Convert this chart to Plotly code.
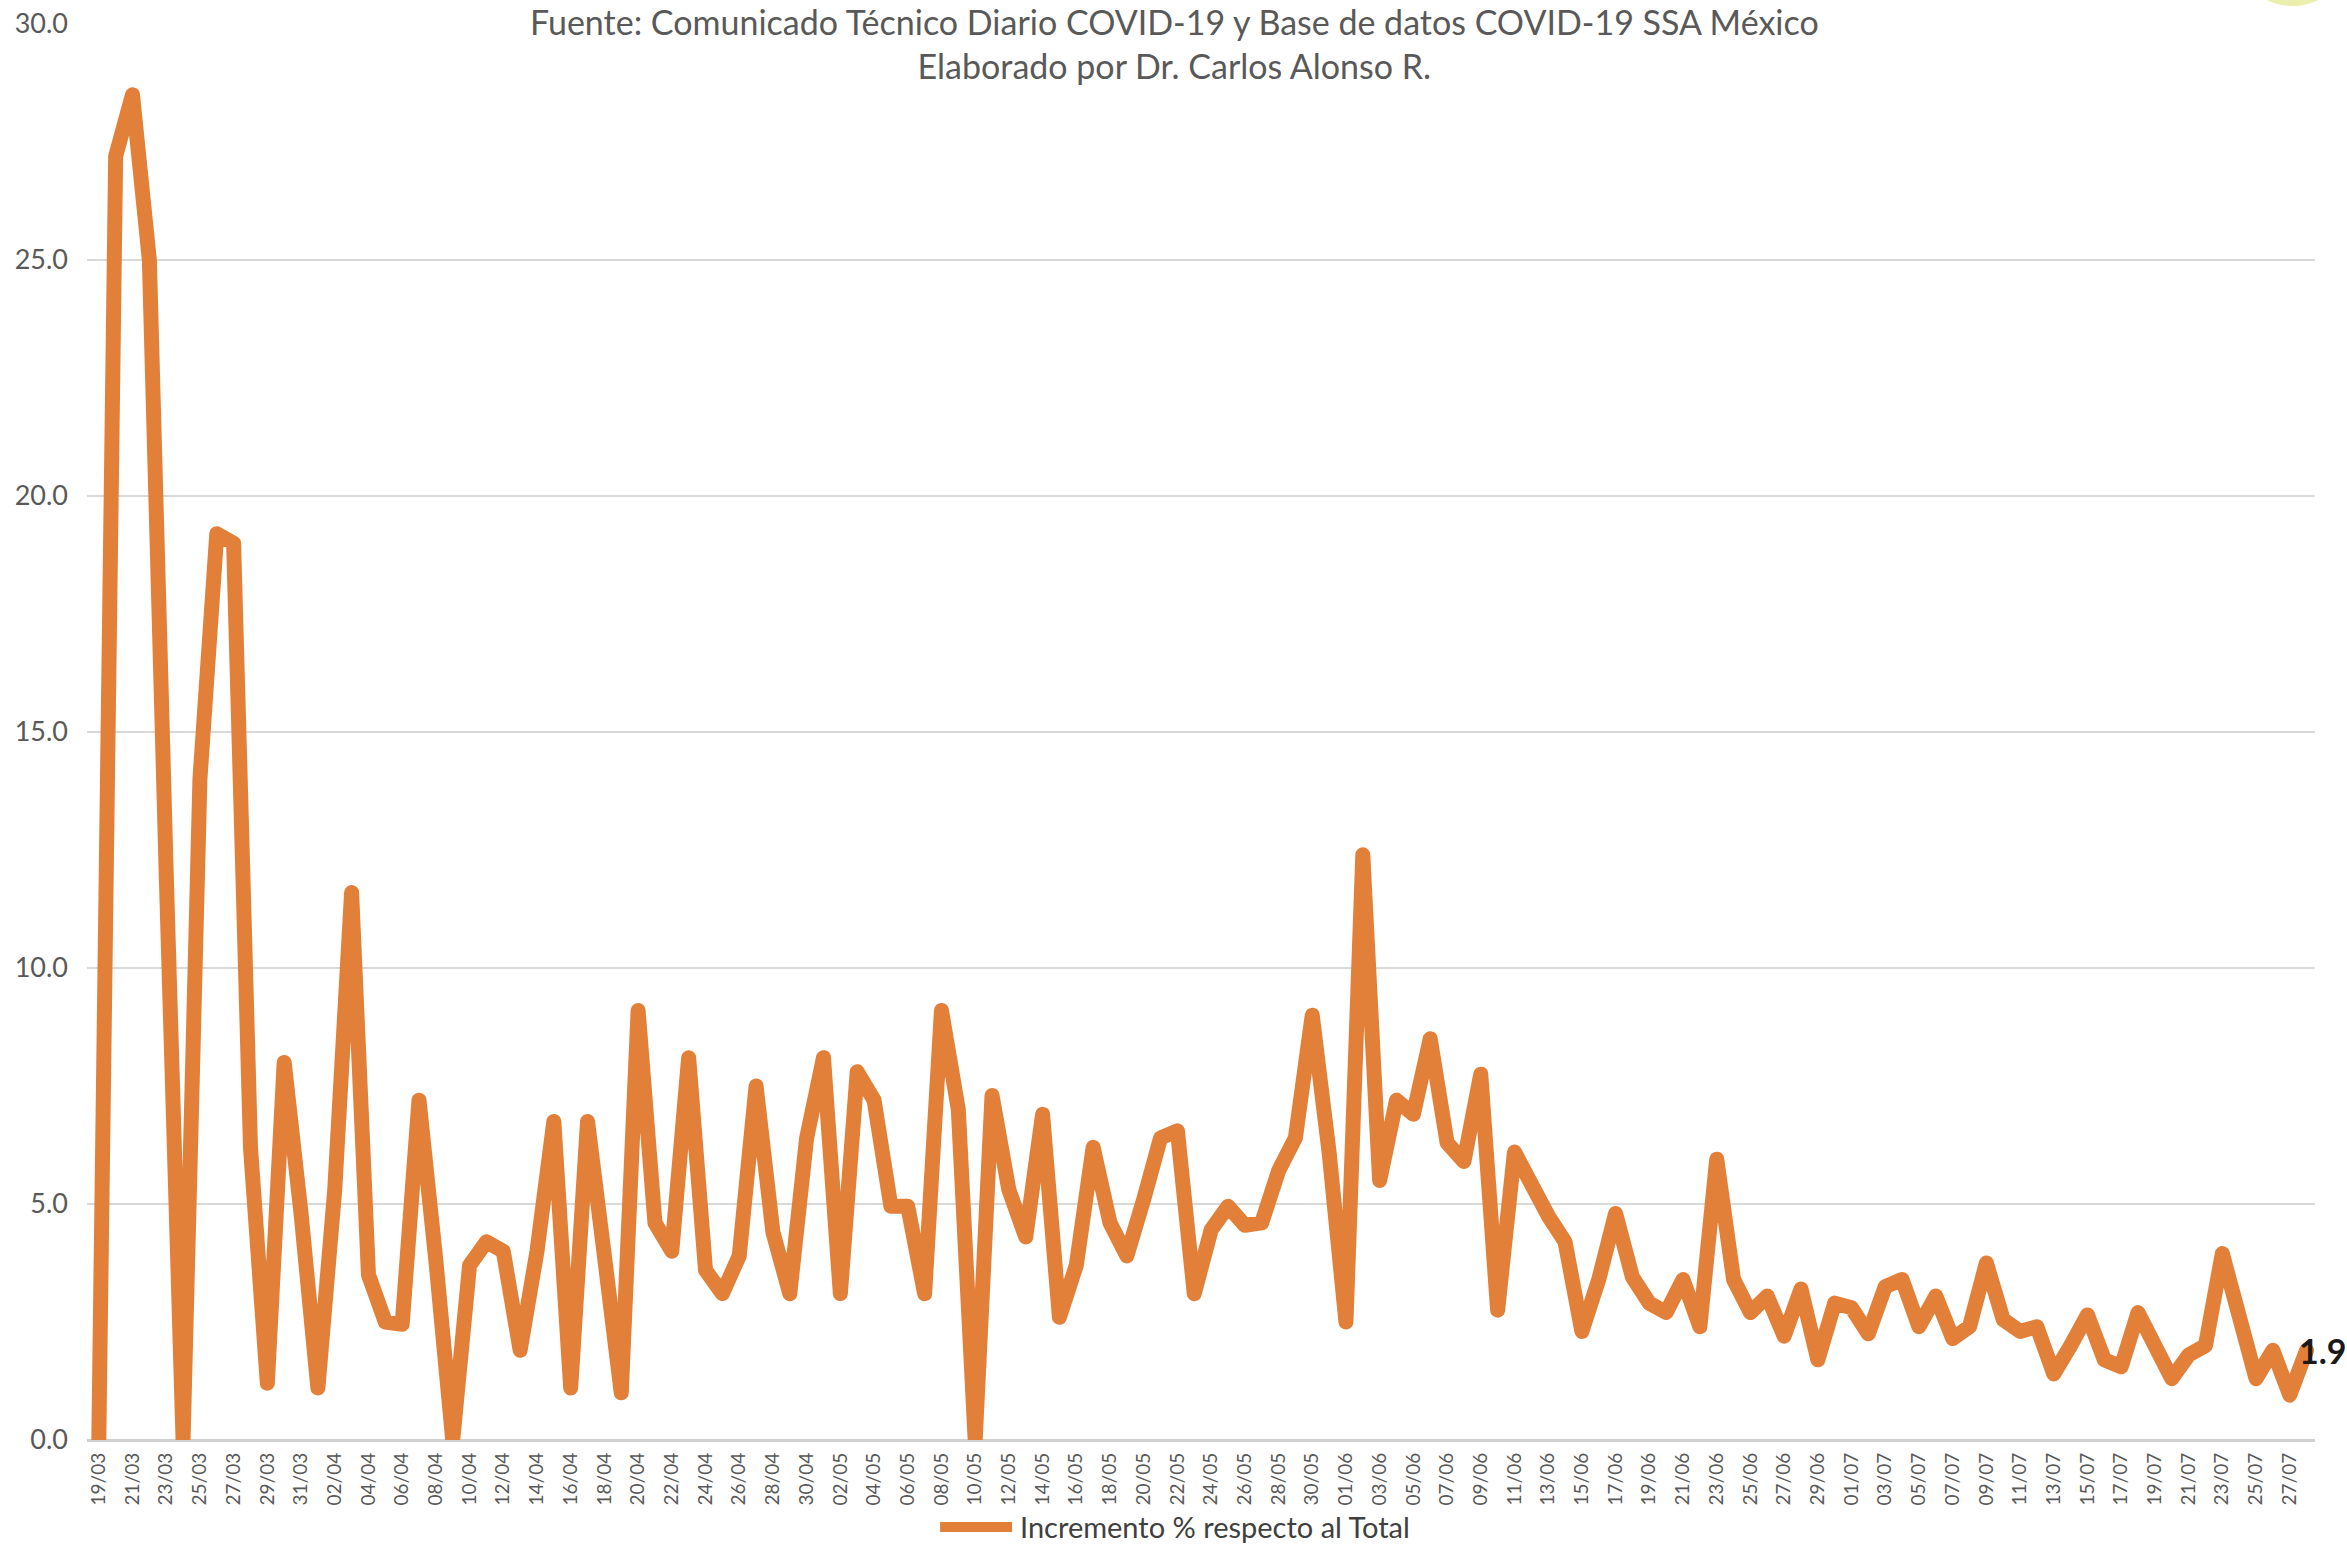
import pandas as pd
import plotly.graph_objects as go

# ---- data ----
dates = [d.strftime("%d/%m") for d in pd.date_range("2020-03-19", "2020-07-28", freq="D")]
values = [
    0.0, 27.2, 28.5, 25.0, 12.0, 0.0, 14.0, 19.2, 19.0, 6.2,
    1.2, 8.0, 4.8, 1.1, 5.3, 11.6, 3.5, 2.5, 2.45, 7.2,
    3.8, 0.0, 3.7, 4.2, 4.0, 1.9, 4.0, 6.75, 1.1, 6.75,
    3.9, 1.0, 9.1, 4.6, 4.0, 8.1, 3.6, 3.1, 3.9, 7.5,
    4.4, 3.1, 6.4, 8.1, 3.1, 7.8, 7.2, 4.95, 4.95, 3.1,
    9.1, 7.0, 0.0, 7.3, 5.3, 4.3, 6.9, 2.6, 3.7, 6.2,
    4.6, 3.9, 5.1, 6.4, 6.55, 3.1, 4.45, 4.95, 4.55, 4.6,
    5.7, 6.4, 9.0, 6.1, 2.5, 12.4, 5.5, 7.2, 6.9, 8.5,
    6.3, 5.9, 7.75, 2.75, 6.1, 5.4, 4.75, 4.2, 2.3, 3.4,
    4.8, 3.45, 2.9, 2.7, 3.4, 2.4, 5.95, 3.4, 2.7, 3.05,
    2.2, 3.2, 1.7, 2.9, 2.8, 2.25, 3.25, 3.4, 2.4, 3.05,
    2.15, 2.4, 3.75, 2.55, 2.3, 2.4, 1.4, 2.0, 2.65, 1.7,
    1.55, 2.7, 1.95, 1.3, 1.8, 2.0, 3.95, 2.5, 1.3, 1.9,
    0.95, 1.9,
]
series_name = "Incremento % respecto al Total"
title_line1 = "Fuente: Comunicado Técnico Diario COVID-19 y Base de datos COVID-19 SSA México"
title_line2 = "Elaborado por Dr. Carlos Alonso R."
y_ticks = [0, 5, 10, 15, 20, 25, 30]

FONT = "Lato"
ORANGE = "rgb(226,128,58)"
GRID = "#D9D9D9"

fig = go.Figure()
fig.add_trace(go.Scatter(
    x=dates, y=values, mode="lines", name=series_name, showlegend=False,
    line=dict(color=ORANGE, width=15),
))

LEG_Y = -0.0614
fig.update_layout(
    width=2347, height=1547,
    margin=dict(l=87, r=32, t=24, b=107),
    paper_bgcolor="white", plot_bgcolor="white",
    font=dict(family=FONT, color="#595959"),
    showlegend=False,
    xaxis=dict(type="category", tickmode="linear", dtick=2, tickangle=-90,
               tickfont=dict(family=FONT, size=19, color="#595959"),
               range=[-0.7, len(values) - 0.5], showgrid=False, showline=False,
               ticks="", ticklabelstandoff=8, automargin=False),
    yaxis=dict(range=[0, 30], tickvals=y_ticks, tickformat=".1f",
               tickfont=dict(family=FONT, size=27, color="#595959"),
               showgrid=True, gridcolor=GRID, gridwidth=2,
               zeroline=True, zerolinecolor="#D0D0D0", zerolinewidth=3,
               showline=False, ticks="", ticklabelstandoff=18, automargin=False),
    annotations=[
        dict(text=title_line1 + "<br>" + title_line2, xref="paper", yref="paper",
             x=0.488, y=1.0, yshift=24, showarrow=False, xanchor="center", yanchor="top",
             borderpad=0, align="center",
             font=dict(family=FONT, size=34, color="#595959")),
        dict(text=f"<b>{values[-1]:.1f}</b>", x=dates[-1], y=values[-1], xref="x", yref="y",
             showarrow=False, xanchor="left", yanchor="middle", xshift=-10,
             font=dict(family=FONT, size=34, color="#1a1a1a")),
        dict(text=series_name, xref="paper", yref="paper", x=0.4179, y=LEG_Y,
             showarrow=False, xanchor="left", yanchor="middle",
             font=dict(family=FONT, size=29, color="#404040")),
    ],
    shapes=[
        dict(type="line", xref="paper", yref="paper", x0=0.3829, x1=0.4152, y0=LEG_Y, y1=LEG_Y,
             line=dict(color=ORANGE, width=10)),
        dict(type="circle", xref="paper", yref="paper", x0=0.9663, x1=1.0135, y0=1.0127, y1=1.08,
             fillcolor="rgba(225,232,140,0.7)", line=dict(width=0), layer="below"),
    ],
)

fig.write_html(
    "out.html",
    config={"displayModeBar": False},
    post_script=(
        "document.body.style.margin='0';document.body.style.overflow='hidden';"
        "document.querySelectorAll('.js-line').forEach(function(p){p.style.strokeLinejoin='round';p.style.strokeLinecap='round';});"
    ),
)
